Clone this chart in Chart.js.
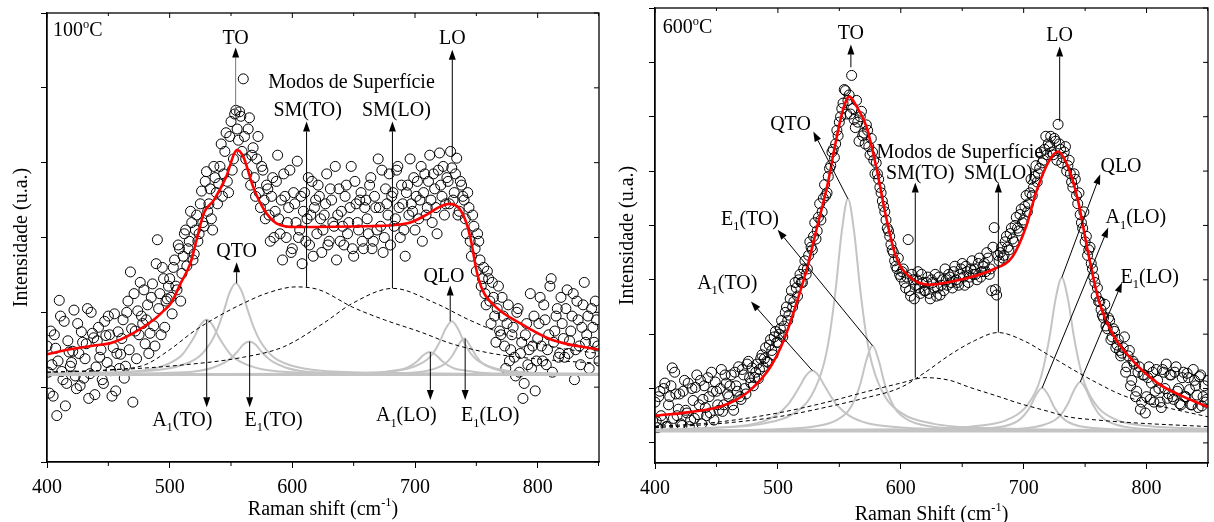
<!DOCTYPE html>
<html><head><meta charset="utf-8">
<script src="https://cdn.jsdelivr.net/npm/chart.js@4.4.0/dist/chart.umd.min.js"></script>
<style>
html,body{margin:0;padding:0;background:#fff;width:1214px;height:522px;overflow:hidden}
#c1{position:absolute;left:0;top:0}
#c2{position:absolute;left:607px;top:0}
</style></head><body>
<canvas id="c1" width="605" height="522" style="width:605px;height:522px"></canvas>
<canvas id="c2" width="607" height="522" style="width:607px;height:522px"></canvas>
<script>
// ---------- axis grid ----------
const ramanEvenStart = 400, ramanOddStart = 401, ramanStep = 2;
const xTickValues = [400, 500, 600, 700, 800];
const xTickLabels = ['400', '500', '600', '700', '800'];
const xMinorTicks = [450, 550, 650, 750, 850];
const left100_yTicks = [0, 1, 2, 3, 4, 5, 6];
const right600_yTicks = [0, 1, 2, 3, 4, 5, 6, 7, 8];

// ---------- measured spectra: 400,402,...,850 and 401,403,...,849 cm-1 ----------
const left100_intensity_even = [
1.55,0.92,1.30,1.70,0.62,2.16,1.21,1.88,1.05,1.47,
1.33,2.03,0.98,1.45,1.74,1.12,1.58,0.85,2.00,1.66,
1.27,1.80,1.50,1.05,1.69,1.95,1.22,1.53,0.95,1.74,
1.44,1.90,1.28,2.15,2.54,0.80,1.75,2.02,2.40,1.85,
1.58,2.10,1.72,2.38,1.55,2.97,2.25,2.60,1.80,2.18,
2.45,1.98,2.70,2.30,2.85,2.52,3.05,2.62,2.95,3.20,
2.78,3.30,3.05,3.62,3.15,3.88,3.45,3.25,3.95,3.60,
3.72,4.25,3.85,4.40,3.60,4.55,4.05,4.70,4.30,4.62,
5.12,4.05,4.45,3.70,4.20,3.55,4.35,3.40,3.90,3.25,
3.65,2.95,3.80,3.35,4.10,3.05,2.70,3.55,3.20,3.90,
2.85,3.45,4.02,3.10,2.65,3.60,3.25,2.90,3.75,3.40,
3.05,3.55,2.80,3.30,3.85,2.95,3.50,3.15,2.70,3.65,
3.35,2.90,3.70,3.20,3.95,2.75,3.45,3.10,3.60,2.85,
3.50,3.05,3.80,2.95,3.40,4.05,3.15,2.80,3.65,3.30,
2.90,3.60,3.25,3.95,3.00,3.45,2.75,3.70,4.05,3.35,
3.10,3.75,3.50,2.95,3.85,3.40,4.10,3.20,3.65,3.05,
4.13,3.55,3.30,3.80,3.45,3.93,3.60,4.06,3.35,3.70,
3.50,3.05,3.40,2.75,3.15,2.55,2.95,2.35,2.60,2.10,
2.45,1.85,2.20,1.60,2.35,1.70,1.95,1.25,2.10,1.50,
1.80,1.15,2.05,1.45,0.85,1.70,1.30,2.25,1.55,0.95,
1.65,2.20,1.35,1.90,1.50,2.35,1.20,1.75,2.05,1.45,
1.85,1.40,2.30,1.62,1.95,1.10,2.15,1.55,1.80,2.40,
1.70,1.25,2.05,1.60,1.90,1.35];
const left100_intensity_odd = [
1.20,1.75,0.88,1.52,1.35,1.95,1.10,0.75,1.62,1.28,
1.48,1.15,1.85,1.02,1.60,1.38,2.05,1.18,1.72,0.90,
1.62,1.40,1.10,1.88,1.33,1.70,0.88,1.98,1.45,1.25,
1.65,1.12,2.00,1.50,1.78,2.25,1.38,1.70,1.95,2.30,
1.90,1.45,2.20,1.82,2.65,2.05,1.70,2.45,2.15,2.35,
2.20,2.60,2.35,2.90,2.15,2.75,3.10,2.85,3.35,2.70,
3.10,2.95,3.45,3.20,3.75,3.35,3.65,3.10,3.80,3.45,
3.95,3.55,4.15,3.75,4.35,3.90,4.65,4.45,4.68,4.15,
4.35,3.85,4.60,4.10,3.80,4.05,3.60,3.95,3.50,3.70,
3.30,3.55,3.00,3.75,3.25,3.50,3.85,3.00,3.40,2.80,
3.60,3.20,3.00,3.55,3.35,2.95,3.80,3.30,2.75,3.50,
3.70,3.25,3.10,3.45,2.90,3.65,3.20,3.95,3.30,2.95,
3.15,3.55,3.05,3.40,2.85,3.75,3.20,3.50,2.95,3.40,
3.25,3.70,2.85,3.55,3.10,3.40,3.90,3.00,3.45,3.85,
3.55,3.15,3.90,3.40,3.70,3.10,3.60,3.30,3.45,3.80,
3.55,3.25,3.95,3.60,3.30,3.75,3.50,3.85,3.40,3.90,
3.70,3.95,3.45,3.75,4.15,3.50,3.85,3.30,3.75,3.55,
3.25,3.60,2.95,3.30,2.85,3.05,2.70,2.45,2.25,2.55,
2.15,2.40,1.95,2.05,1.75,2.20,1.55,1.85,1.35,1.70,
1.40,2.00,1.20,1.60,1.05,1.85,1.50,1.25,1.95,1.35,
1.85,1.55,2.10,1.30,1.70,2.45,1.60,1.95,1.40,2.20,
1.65,2.05,1.45,1.75,2.25,1.50,1.90,1.30,2.10,1.60,
1.95,1.45,1.80,2.15,1.55];

const right600_intensity_even = [
0.75,0.28,0.95,0.42,1.10,0.30,0.85,1.38,1.30,0.50,
0.90,0.32,1.15,0.55,0.30,1.00,0.45,1.25,0.70,0.35,
1.05,0.50,0.85,1.30,0.42,0.95,0.60,1.35,0.70,1.10,
0.85,1.25,0.60,1.05,1.40,0.80,1.25,0.90,1.50,1.10,
1.05,1.30,1.18,1.55,1.40,1.75,1.48,1.90,1.62,2.05,
1.85,2.10,1.95,2.40,2.25,2.65,2.50,2.95,2.70,3.10,
2.95,3.35,3.20,3.70,3.55,4.05,3.90,4.40,4.25,4.75,
4.60,5.05,5.35,5.25,5.75,5.90,6.15,6.50,6.05,6.40,
6.76,5.95,6.30,5.55,6.10,5.70,5.85,5.45,5.60,5.20,
5.15,4.85,4.60,4.35,4.10,3.90,3.65,3.50,3.25,3.40,
3.05,3.20,2.85,3.74,2.70,3.00,2.90,3.15,2.75,2.95,
2.80,3.05,2.65,2.95,3.10,2.85,2.72,3.00,3.20,2.90,
3.05,2.85,3.25,2.95,3.10,3.30,2.90,3.15,3.05,3.35,
3.20,3.00,3.40,3.15,3.30,3.50,3.10,2.80,3.96,2.72,
3.35,3.60,3.45,3.80,3.55,3.95,3.70,4.15,3.90,4.30,
4.10,4.55,4.40,4.85,4.70,5.10,4.95,5.35,5.20,5.64,
5.50,5.64,5.30,5.55,5.86,5.40,5.25,5.45,5.10,4.95,
4.70,4.85,4.40,4.20,3.95,3.70,3.45,3.60,3.20,2.95,
2.85,2.60,2.35,2.55,2.10,2.25,1.95,2.05,1.80,1.70,
1.65,1.95,1.40,1.70,1.15,1.45,0.95,1.40,0.75,1.25,
0.85,1.40,1.10,0.75,1.35,1.00,0.65,1.30,1.45,0.90,
1.25,0.80,1.40,1.00,0.70,1.30,0.85,1.20,0.70,1.35,
1.05,0.65,1.25,0.85,0.75,1.15];
const right600_intensity_odd = [
0.40,0.85,0.50,1.00,0.30,0.70,1.05,0.45,0.90,0.62,
0.35,0.95,0.60,1.10,0.42,0.78,1.02,0.52,1.15,0.80,
0.65,1.20,0.55,0.95,1.12,0.70,1.00,0.58,1.25,0.90,
1.05,0.70,1.30,0.95,0.85,1.35,1.00,1.45,1.20,1.38,
1.20,1.45,1.35,1.62,1.55,1.50,1.80,1.70,1.95,1.85,
2.00,2.25,2.15,2.50,2.35,2.80,2.60,2.85,3.00,2.95,
3.20,3.10,3.45,3.60,3.80,3.75,4.15,4.10,4.50,4.55,
4.90,5.10,5.40,5.50,5.65,6.00,6.25,6.48,6.30,6.05,
6.15,5.80,5.90,6.00,5.65,5.50,5.75,5.30,5.35,4.95,
4.95,4.70,4.45,4.25,3.95,3.80,3.55,3.35,3.20,3.10,
3.15,2.95,3.05,2.80,3.10,2.65,3.00,2.85,3.10,2.80,
2.95,2.75,3.00,2.85,2.70,3.05,2.90,2.80,3.00,3.10,
2.95,3.15,3.00,2.90,3.20,3.05,3.25,2.95,3.20,3.10,
3.10,3.30,3.05,3.25,3.15,3.40,3.20,3.60,2.82,3.45,
3.50,3.40,3.70,3.60,3.85,3.75,4.00,3.95,4.20,4.05,
4.35,4.25,4.60,4.55,4.90,4.80,5.05,5.15,5.40,5.30,
5.45,5.35,5.60,5.20,5.50,5.15,5.35,5.00,5.20,4.80,
4.95,4.55,4.60,4.05,4.25,3.80,3.55,3.30,3.05,2.70,
2.60,2.45,2.30,2.15,2.30,1.90,2.10,1.75,1.90,1.60,
1.75,1.30,1.60,1.05,1.50,0.85,1.30,0.62,1.25,0.55,
1.20,0.80,1.30,0.95,1.15,0.75,1.35,1.00,0.82,1.25,
0.85,1.30,0.95,0.72,1.20,0.85,1.28,0.98,0.70,1.15,
0.88,1.22,0.68,1.05,0.80];

// ---------- fitted envelope (red) ----------
const left100_fit = [[400,1.44],[420,1.51],[440,1.56],[452,1.59],[470,1.72],[487,1.90],[495,2.02],[501,2.12],[509,2.39],[517,2.66],[522,2.97],[528,3.33],[536,3.50],[546,3.81],[555,4.17],[560,4.08],[568,3.68],[577,3.37],[587,3.19],[603,3.14],[660,3.15],[694,3.19],[710,3.31],[720,3.41],[728,3.45],[736,3.39],[742,3.19],[746,2.93],[750,2.57],[755,2.30],[766,2.07],[785,1.86],[812,1.63],[850,1.50]];
const right600_fit = [[400,0.50],[430,0.57],[452,0.66],[465,0.78],[478,0.98],[494,1.40],[505,1.90],[516,2.63],[524,3.24],[532,3.98],[540,4.71],[548,5.64],[553,6.13],[558,6.37],[564,6.19],[572,5.82],[580,5.08],[588,4.16],[596,3.43],[607,3.06],[623,2.91],[648,3.00],[675,3.19],[691,3.43],[702,3.98],[710,4.60],[720,5.16],[728,5.36],[736,5.08],[744,4.48],[752,3.55],[761,2.63],[772,2.02],[788,1.53],[809,1.10],[830,0.85],[850,0.66]];

// ---------- phonon components (grey) ----------
const left100_A1TO = [[400,1.18],[460,1.20],[485,1.24],[500,1.32],[510,1.43],[515,1.54],[520,1.67],[525,1.83],[530,1.90],[535,1.83],[540,1.67],[545,1.54],[550,1.43],[560,1.32],[575,1.24],[600,1.20],[660,1.18],[850,1.17]];
const left100_QTO = [[400,1.18],[424,1.19],[484,1.22],[509,1.29],[524,1.41],[534,1.61],[539,1.78],[544,2.01],[549,2.27],[554,2.39],[559,2.27],[564,2.01],[569,1.78],[574,1.61],[584,1.41],[599,1.29],[624,1.22],[684,1.19],[850,1.17]];
const left100_E1TO = [[400,1.17],[495,1.19],[520,1.21],[535,1.26],[545,1.33],[550,1.39],[555,1.47],[560,1.57],[565,1.61],[570,1.57],[575,1.47],[580,1.39],[585,1.33],[595,1.26],[610,1.21],[635,1.19],[700,1.18],[850,1.17]];
const left100_A1LO = [[400,1.17],[642,1.18],[667,1.19],[682,1.22],[692,1.25],[697,1.29],[702,1.35],[707,1.43],[712,1.47],[717,1.43],[722,1.35],[727,1.29],[732,1.25],[742,1.22],[757,1.19],[782,1.18],[850,1.17]];
const left100_QLO = [[400,1.17],[610,1.18],[660,1.19],[685,1.22],[700,1.28],[710,1.37],[715,1.46],[720,1.60],[725,1.78],[730,1.88],[735,1.78],[740,1.60],[745,1.46],[750,1.37],[760,1.28],[775,1.22],[800,1.19],[850,1.18]];
const left100_E1LO = [[400,1.17],[670,1.18],[695,1.19],[710,1.22],[720,1.27],[725,1.32],[730,1.41],[735,1.55],[740,1.65],[745,1.55],[750,1.41],[755,1.32],[760,1.27],[770,1.22],[785,1.19],[810,1.18],[850,1.17]];
const left100_base = [[400,1.17],[850,1.17]];

const right600_A1TO = [[400,0.24],[458,0.29],[483,0.36],[498,0.50],[508,0.70],[513,0.86],[518,1.05],[523,1.24],[528,1.33],[533,1.24],[538,1.05],[543,0.86],[548,0.70],[558,0.50],[573,0.36],[598,0.29],[658,0.24],[850,0.22]];
const right600_QTO = [[400,0.24],[437,0.27],[487,0.35],[512,0.53],[527,0.86],[537,1.42],[542,1.97],[547,2.82],[552,3.89],[557,4.49],[562,3.89],[567,2.82],[572,1.97],[577,1.42],[587,0.86],[602,0.53],[627,0.35],[677,0.27],[760,0.24],[850,0.23]];
const right600_E1TO = [[400,0.22],[457,0.23],[507,0.26],[532,0.31],[547,0.41],[557,0.58],[562,0.77],[567,1.08],[572,1.52],[577,1.79],[582,1.52],[587,1.08],[592,0.77],[597,0.58],[607,0.41],[622,0.31],[647,0.26],[697,0.23],[850,0.22]];
const right600_A1LO = [[400,0.22],[595,0.23],[645,0.24],[670,0.27],[685,0.31],[695,0.40],[700,0.50],[705,0.65],[710,0.88],[715,1.01],[720,0.88],[725,0.65],[730,0.50],[735,0.40],[745,0.31],[760,0.27],[785,0.24],[850,0.22]];
const right600_QLO = [[400,0.23],[611,0.25],[661,0.31],[686,0.42],[701,0.64],[711,1.01],[716,1.38],[721,1.94],[726,2.65],[731,3.04],[736,2.65],[741,1.94],[746,1.38],[751,1.01],[761,0.64],[776,0.42],[801,0.31],[850,0.26]];
const right600_E1LO = [[400,0.22],[626,0.23],[676,0.24],[701,0.27],[716,0.33],[726,0.43],[731,0.54],[736,0.72],[741,0.97],[746,1.12],[751,0.97],[756,0.72],[761,0.54],[766,0.43],[776,0.33],[791,0.27],[816,0.24],[850,0.23]];
const right600_base = [[400,0.22],[850,0.22]];

// ---------- surface modes (dashed) ----------
const left100_SMTO = [[400,1.20],[450,1.23],[480,1.30],[500,1.50],[520,1.75],[540,1.95],[560,2.12],[580,2.26],[603,2.34],[622,2.30],[649,2.07],[675,1.90],[704,1.74],[730,1.58],[763,1.45],[812,1.36],[850,1.32]];
const left100_SMLO = [[400,1.20],[452,1.23],[506,1.29],[560,1.40],[593,1.54],[625,1.85],[649,2.12],[682,2.32],[717,2.12],[744,1.90],[771,1.72],[812,1.54],[850,1.45]];
const right600_SMTO = [[400,0.30],[450,0.38],[500,0.55],[540,0.75],[570,0.93],[600,1.10],[620,1.20],[640,1.15],[655,1.03],[680,0.85],[696,0.73],[720,0.58],[736,0.48],[760,0.42],[789,0.37],[850,0.30]];
const right600_SMLO = [[400,0.28],[450,0.35],[500,0.48],[540,0.66],[570,0.82],[600,1.02],[620,1.30],[640,1.62],[660,1.88],[679,2.03],[700,1.88],[720,1.62],[740,1.35],[760,1.10],[780,0.88],[800,0.74],[820,0.63],[850,0.48]];

// ---------- annotations (anchored in data units) ----------
const left100_annot = [
  {arrow:[[553.8,4.67],[553.8,5.54]], color:'#777'}, {text:[['TO']], at:[553.8,5.67]},
  {arrow:[[730.4,4.08],[730.4,5.51]]}, {text:[['LO']], at:[730.4,5.67]},
  {text:[['Modos de Superfície']], at:[648.2,5.08]},
  {arrow:[[611.6,2.34],[611.6,4.55]]}, {text:[['SM(TO)']], at:[612.5,4.71]},
  {arrow:[[681.6,2.32],[681.6,4.55]]}, {text:[['SM(LO)']], at:[684.8,4.71]},
  {arrow:[[554.6,2.39],[554.6,2.67]]}, {text:[['QTO']], at:[554.6,2.83]},
  {arrow:[[728.7,1.88],[728.7,2.36]]}, {text:[['QLO']], at:[723.6,2.49]},
  {arrow:[[530.2,1.90],[530.2,0.73]]}, {text:[['A'],['1','sub'],['(TO)']], at:[510.3,0.57]},
  {arrow:[[565.2,1.61],[565.2,0.73]]}, {text:[['E'],['1','sub'],['(TO)']], at:[584.7,0.57]},
  {arrow:[[712.5,1.47],[712.5,0.83]]}, {text:[['A'],['1','sub'],['(LO)']], at:[692.9,0.63]},
  {arrow:[[740.9,1.65],[740.9,0.83]]}, {text:[['E'],['1','sub'],['(LO)']], at:[761.3,0.63]},
  {text:[['100'],['o','sup'],['C']], at:[404.9,5.78], align:'left'}
];
const right600_annot = [
  {arrow:[[559.4,6.91],[559.4,7.33]]}, {text:[['TO']], at:[559.4,7.55]},
  {arrow:[[729.3,5.91],[729.3,7.29]]}, {text:[['LO']], at:[729.3,7.51]},
  {arrow:[[557,4.49],[528.8,5.73]]}, {text:[['QTO']], at:[510.3,5.87]},
  {arrow:[[577,1.79],[499.8,3.92]]}, {text:[['E'],['1','sub'],['(TO)']], at:[477.3,4.13]},
  {arrow:[[528,1.33],[478.1,2.60]]}, {text:[['A'],['1','sub'],['(TO)']], at:[458.8,2.95]},
  {text:[['Modos de Superfície']], at:[648,5.36]},
  {arrow:[[611.8,1.20],[611.8,4.79]]}, {text:[['SM(TO)']], at:[615.8,4.97]},
  {arrow:[[679.4,2.03],[679.4,4.79]]}, {text:[['SM(LO)']], at:[679.4,4.97]},
  {arrow:[[731,3.04],[762.3,4.94]]}, {text:[['QLO']], at:[779.2,5.10]},
  {arrow:[[715,1.01],[768.8,3.96]]}, {text:[['A'],['1','sub'],['(LO)']], at:[791.3,4.16]},
  {arrow:[[746,1.12],[780,2.95]]}, {text:[['E'],['1','sub'],['(LO)']], at:[802.6,3.06]},
  {text:[['600'],['o','sup'],['C']], at:[406.4,7.66], align:'left'}
];

// ---------- helpers ----------
const FAM = "'Liberation Serif', 'Times New Roman', serif";
Chart.defaults.font.family = FAM;
Chart.defaults.color = '#000';

function spectrumPoints(even, odd) {
  const pts = even.map((y, i) => ({x: ramanEvenStart + i * ramanStep, y}));
  odd.forEach((y, i) => pts.push({x: ramanOddStart + i * ramanStep, y}));
  return pts;
}
function pairPoints(arr) { return arr.map(p => ({x: p[0], y: p[1]})); }

function drawRich(ctx, segs, x, y, size, align) {
  const parts = segs.map(([t, k]) => ({t, k: k || 'n', s: k ? size * 0.62 : size}));
  let w = 0;
  parts.forEach(p => { ctx.font = p.s + 'px ' + FAM; p.w = ctx.measureText(p.t).width; w += p.w; });
  let cx = align === 'left' ? x : x - w / 2;
  const base = y + size * 0.33;
  ctx.textBaseline = 'alphabetic'; ctx.textAlign = 'left'; ctx.fillStyle = '#000';
  parts.forEach(p => {
    ctx.font = p.s + 'px ' + FAM;
    const dy = p.k === 'sub' ? size * 0.26 : (p.k === 'sup' ? -size * 0.42 : 0);
    ctx.fillText(p.t, cx, base + dy);
    cx += p.w;
  });
}

function drawArrow(ctx, x1, y1, x2, y2, color) {
  const ang = Math.atan2(y2 - y1, x2 - x1);
  const L = 10, W = 3.5;
  const bx = x2 - L * Math.cos(ang), by = y2 - L * Math.sin(ang);
  ctx.strokeStyle = color || '#000'; ctx.lineWidth = 1;
  ctx.beginPath(); ctx.moveTo(x1, y1); ctx.lineTo(bx, by); ctx.stroke();
  ctx.fillStyle = '#000';
  ctx.beginPath();
  ctx.moveTo(x2, y2);
  ctx.lineTo(bx + W * Math.sin(ang), by - W * Math.cos(ang));
  ctx.lineTo(bx - W * Math.sin(ang), by + W * Math.cos(ang));
  ctx.closePath(); ctx.fill();
}

const decorPlugin = {
  id: 'decor',
  afterDraw(chart, args, opts) {
    const {ctx, chartArea: a, scales: {x, y}} = chart;
    ctx.save();
    ctx.strokeStyle = '#000'; ctx.lineWidth = 1.3;
    ctx.strokeRect(a.left, a.top, a.right - a.left, a.bottom - a.top);
    ctx.lineWidth = 1;
    ctx.beginPath();
    xTickValues.forEach(v => { const px = x.getPixelForValue(v); ctx.moveTo(px, a.top); ctx.lineTo(px, a.top + 5); });
    xMinorTicks.forEach(v => {
      const px = Math.min(x.getPixelForValue(v), a.right - 0.5);
      ctx.moveTo(px, a.top); ctx.lineTo(px, a.top + 3);
      ctx.moveTo(px, a.bottom); ctx.lineTo(px, a.bottom + 4);
    });
    opts.yTicks.forEach(v => { const py = y.getPixelForValue(v); ctx.moveTo(a.right, py); ctx.lineTo(a.right - 5, py); });
    ctx.stroke();
    opts.annot.forEach(it => {
      if (it.arrow) {
        const [p, q] = it.arrow;
        drawArrow(ctx, x.getPixelForValue(p[0]), y.getPixelForValue(p[1]), x.getPixelForValue(q[0]), y.getPixelForValue(q[1]), it.color);
      } else if (it.text) {
        drawRich(ctx, it.text, x.getPixelForValue(it.at[0]), y.getPixelForValue(it.at[1]), 20, it.align);
      }
    });
    drawRich(ctx, opts.xTitle, (a.left + a.right) / 2, a.bottom + opts.xTitleOffset, 20, 'center');
    ctx.restore();
  }
};

function makeChart(cfg) {
  const datasets = [];
  datasets.push({label: 'Dados', data: spectrumPoints(cfg.even, cfg.odd), showLine: false,
    pointRadius: 5, pointBorderWidth: 1, pointBorderColor: '#000', pointBackgroundColor: 'rgba(0,0,0,0)', order: 10});
  datasets.push({label: 'Linha de base', data: pairPoints(cfg.base), showLine: true, borderColor: '#c4c4c4', borderWidth: 3, pointRadius: 0, order: 6});
  cfg.lorentz.forEach(c => datasets.push({label: c[0], data: pairPoints(c[1]), showLine: true, borderColor: '#c4c4c4', borderWidth: 2,
    pointRadius: 0, cubicInterpolationMode: 'monotone', order: 5}));
  cfg.surface.forEach(c => datasets.push({label: c[0], data: pairPoints(c[1]), showLine: true, borderColor: '#000', borderWidth: 1,
    borderDash: [4, 3], pointRadius: 0, cubicInterpolationMode: 'monotone', order: 4}));
  datasets.push({label: 'Ajuste', data: pairPoints(cfg.fit), showLine: true, borderColor: '#ff0000', borderWidth: 2.6,
    pointRadius: 0, cubicInterpolationMode: 'monotone', order: 1});

  return new Chart(document.getElementById(cfg.canvas), {
    type: 'scatter',
    data: {datasets},
    options: {
      responsive: false, animation: false, devicePixelRatio: 1,
      layout: {padding: {top: cfg.padTop, right: cfg.padRight, left: 0, bottom: 0}},
      plugins: {legend: {display: false}, tooltip: {enabled: false},
        decor: {yTicks: cfg.yTicks, annot: cfg.annot, xTitle: cfg.xTitle, xTitleOffset: cfg.xTitleOffset}},
      scales: {
        x: {type: 'linear', min: 400, max: 850,
          afterBuildTicks: s => { s.ticks = xTickValues.map(v => ({value: v})); },
          ticks: {font: {size: 20}, color: '#000', padding: 8, maxRotation: 0, autoSkip: false,
            callback: (v, i) => xTickLabels[i]},
          grid: {display: true, drawOnChartArea: false, drawTicks: true, tickLength: 6, color: '#000', lineWidth: 1},
          border: {display: true, color: '#000', width: 1.3},
          afterFit: s => { s.height = cfg.xAxisHeight; }},
        y: {type: 'linear', min: cfg.yMin, max: cfg.yMax,
          afterBuildTicks: s => { s.ticks = cfg.yTicks.map(v => ({value: v})); },
          ticks: {display: false},
          grid: {display: true, drawOnChartArea: false, drawTicks: true, tickLength: 6, color: '#000', lineWidth: 1},
          border: {display: true, color: '#000', width: 1.3},
          title: {display: true, text: 'Intensidade (u.a.)', color: '#000', font: {size: 20, lineHeight: 1.2},
            padding: {top: cfg.titlePad, bottom: 0}},
          afterFit: s => { s.width = cfg.yAxisWidth; }}
      }
    },
    plugins: [decorPlugin]
  });
}

makeChart({
  canvas: 'c1', even: left100_intensity_even, odd: left100_intensity_odd, fit: left100_fit, base: left100_base,
  lorentz: [['A1(TO)', left100_A1TO], ['QTO', left100_QTO], ['E1(TO)', left100_E1TO], ['A1(LO)', left100_A1LO], ['QLO', left100_QLO], ['E1(LO)', left100_E1LO]],
  surface: [['SM(TO)', left100_SMTO], ['SM(LO)', left100_SMLO]],
  yMin: 0, yMax: 6, yTicks: left100_yTicks, padTop: 13, padRight: 4, yAxisWidth: 47, xAxisHeight: 60, titlePad: 9.6,
  annot: left100_annot, xTitle: [['Raman shift (cm'], ['-1', 'sup'], [')']], xTitleOffset: 46
});
makeChart({
  canvas: 'c2', even: right600_intensity_even, odd: right600_intensity_odd, fit: right600_fit, base: right600_base,
  lorentz: [['A1(TO)', right600_A1TO], ['QTO', right600_QTO], ['E1(TO)', right600_E1TO], ['A1(LO)', right600_A1LO], ['QLO', right600_QLO], ['E1(LO)', right600_E1LO]],
  surface: [['SM(TO)', right600_SMTO], ['SM(LO)', right600_SMLO]],
  yMin: -0.37, yMax: 8, yTicks: right600_yTicks, padTop: 8, padRight: 1, yAxisWidth: 48, xAxisHeight: 59, titlePad: 8.6,
  annot: right600_annot, xTitle: [['Raman Shift (cm'], ['-1', 'sup'], [')']], xTitleOffset: 50
});
</script></body></html>
